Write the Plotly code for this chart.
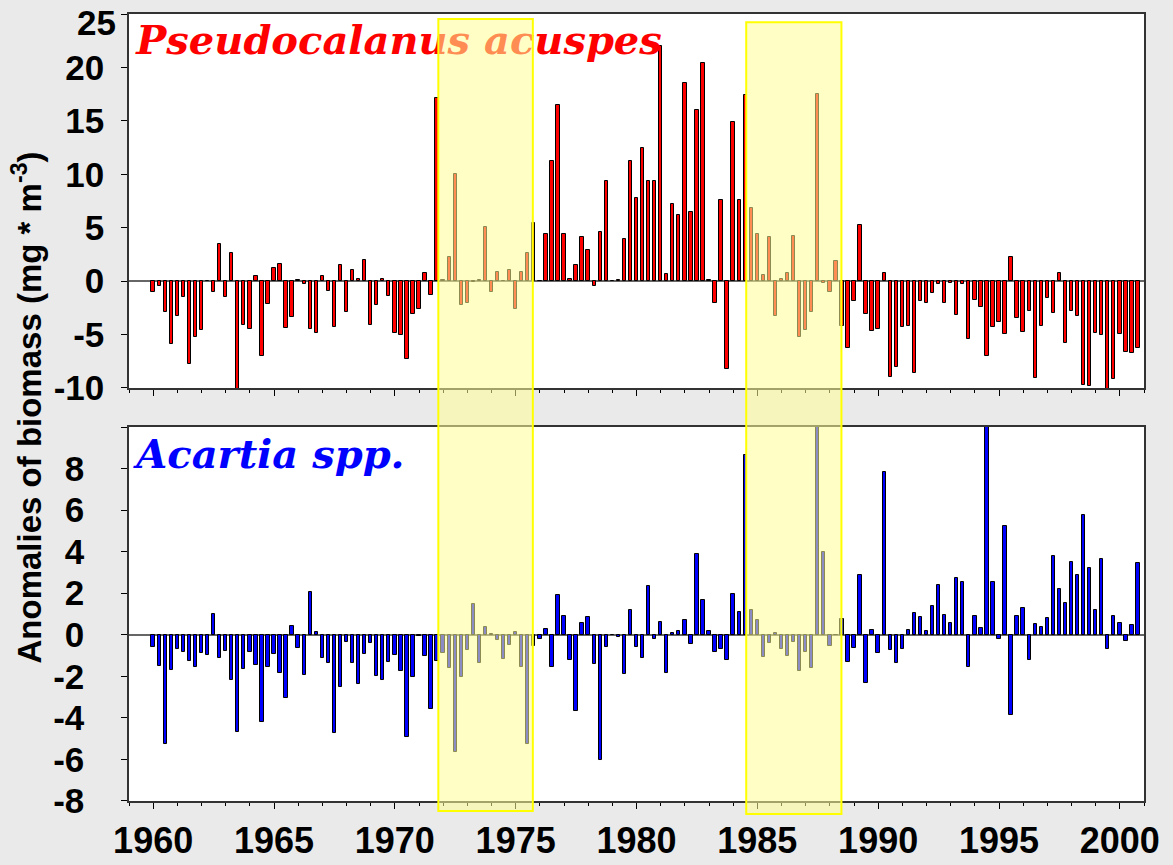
import plotly.graph_objects as go

# quarterly time index 1960.00 ... 2000.75
years = [1960 + q / 4 for q in range(164)]

pseudocalanus = [
    -1.0, -0.5, -2.9, -5.9, -3.25, -1.5, -7.8, -5.2, -4.6, 0.05,
    -1.0, 3.5, -1.5, 2.6, -10.4, -4.1, -4.5, 0.5, -7.0, -2.1,
    1.25, 1.6, -4.4, -3.4, 0.1, -0.25, -4.5, -4.9, 0.45, -0.9,
    -4.3, 1.55, -2.9, 1.05, 0.2, 2.0, -4.1, -2.25, 0.2, -1.35,
    -4.9, -5.0, -7.3, -3.1, -2.6, 0.8, -1.3, 17.1, 0.15, 2.3,
    10.0, -2.2, -2.0, -0.1, 0.1, 5.1, -1.0, 0.9, 0.05, 1.0,
    -2.6, 0.9, 2.6, 5.4, 0.05, 4.4, 11.2, 16.5, 4.45, 0.2,
    1.5, 4.1, 2.9, -0.45, 4.6, 9.4, 0.05, 0.1, 3.9, 11.2,
    7.75, 12.5, 9.35,
    9.4, 22.0, 0.7, 7.25, 6.2, 18.5, 6.5, 16.0, 20.4, 0.1,
    -2.0, 7.6, -8.2, 14.9, 7.55, 17.4, 6.85, 4.4, 0.6, 4.15,
    -3.25, 0.2, 0.8, 4.2, -5.25, -4.55, -2.9, 17.55, -0.2, -1.0,
    1.85, -4.2, -6.25, -1.85, 5.3, -3.05, -4.7, -4.45, 0.75, -9.0,
    -8.0, -4.3, -4.2,
    -8.6, -1.85, -2.0, -1.1, -0.25, -2.0, -0.15, -3.15, -0.25, -5.4,
    -1.75, -2.4, -7.0, -4.3, -3.8, -4.95, 2.3, -3.45, -4.75, -2.8,
    -9.05, -4.2, -1.55, -2.95, 0.8, -5.8, -2.8, -3.25, -9.7, -9.8,
    -4.85, -5.0, -10.3, -9.15, -4.95, -6.6, -6.7, -6.25,
]

acartia = [
    -0.61, -1.51, -5.27, -1.70, -0.69, -0.84, -1.27, -1.56, -0.88, -0.98,
    1.01, -1.12, -0.79, -2.17, -4.69, -1.65, -0.84, -1.46, -4.21, -1.56,
    -0.93, -1.85, -3.05, 0.42, -0.64, -1.96, 2.06, 0.13, -1.12, -1.37,
    -4.74, -2.52, -0.35, -1.37, -2.38, -0.93, -0.40, -1.99, -2.18, -1.32,
    -0.96, -1.75, -4.93, -2.04, -0.05, -1.03, -3.56, -1.27, -0.88, -1.61,
    -5.62, -2.04, -0.71, 1.49, -1.38, 0.37, 0.03, -0.24, -1.19, -0.51,
    0.14, -1.53, -5.27, -0.55, -0.18, 0.27, -1.56, 1.93, 0.92, -1.22,
    -3.65, 0.56, 0.85, -1.41, -6.04, -0.61, -0.02, -0.11, -1.90, 1.19,
    -0.61, -1.12, 2.35,
    -0.21, 0.61, -1.85, 0.08, 0.19, 0.71, -0.45, 3.89, 1.67, 0.18,
    -0.84, -0.69, -1.22, 1.96, 1.11, 8.63, 1.19, 0.72, -1.06, -0.40,
    0.08, -0.69, -1.04, -0.37, -1.75, -0.82, -1.61, 10.3, 4.0, -0.56,
    -0.02, 0.77, -1.33, -0.66, 2.88, -2.33, 0.22, -0.88, 7.84, -0.72,
    -1.37, -0.69, 0.21,
    1.03, 0.87, 0.16, 1.38, 2.38, 0.96, 0.59, 2.75, 2.55, -1.56,
    0.92, 0.34, 10.2, 2.55, -0.21, 5.25, -3.87, 0.92, 1.30, -1.22,
    0.53, 0.39, 0.82, 3.81, 2.22, 1.51, 3.52, 2.89, 5.78, 3.23,
    1.17, 3.66, -0.69, 0.92, 0.59, -0.31, 0.48, 3.44,
]

highlight_periods = [(1971.8, 1975.71), (1984.54, 1988.48)]
top_ticks = [-10, -5, 0, 5, 10, 15, 20, 25]
top_ticktext = ["-10", "-5", "0", "5", "10", "15", "20", ""]
top_label_25 = "25"
bottom_ticks = [-8, -6, -4, -2, 0, 2, 4, 6, 8, 10]
bottom_ticktext = ["-8", "-6", "-4", "-2", "0", "2", "4", "6", "8", ""]
year_ticks = [1960, 1965, 1970, 1975, 1980, 1985, 1990, 1995, 2000]

fig = go.Figure()

fig.add_trace(go.Bar(x=years, y=pseudocalanus, width=0.14,
                     marker=dict(color="#FF0000", line=dict(color="black", width=1)),
                     xaxis="x2", yaxis="y2", showlegend=False))
fig.add_trace(go.Bar(x=years, y=acartia, width=0.14,
                     marker=dict(color="#0000FF", line=dict(color="black", width=1)),
                     xaxis="x", yaxis="y", showlegend=False))

title_font = dict(family="DejaVu Serif", size=40, weight="bold", style="italic")
fig.add_trace(go.Scatter(x=[1959.3], y=[22.2], mode="text", text=["Pseudocalanus acuspes"],
                         textposition="middle right", cliponaxis=False,
                         textfont=dict(color="#FF0000", **title_font),
                         xaxis="x2", yaxis="y2", showlegend=False, hoverinfo="skip"))
fig.add_trace(go.Scatter(x=[1959.3], y=[8.5], mode="text", text=["Acartia spp."],
                         textposition="middle right", cliponaxis=False,
                         textfont=dict(color="#0000FF", **title_font),
                         xaxis="x", yaxis="y", showlegend=False, hoverinfo="skip"))

y0s = [-0.0127, -0.0165]
y1s = [0.9936, 0.9895]
for (a, b), y0, y1 in zip(highlight_periods, y0s, y1s):
    fig.add_shape(type="rect", xref="x", yref="paper", x0=a, x1=b, y0=y0, y1=y1,
                  fillcolor="rgba(255,255,150,0.55)", line=dict(color="#FFFF00", width=2),
                  layer="above")

sans = "Liberation Sans, Arial, sans-serif"
tick_font = dict(family=sans, size=35, color="black", weight="bold")
xcommon = dict(range=[1959, 2001], tickvals=year_ticks, ticks="outside", ticklen=6,
               tickcolor="black", showline=True, linecolor="#333", linewidth=1.5, mirror=True,
               showgrid=False, zeroline=False, ticklabeloverflow="allow",
               minor=dict(dtick=1, ticklen=3, tickcolor="black", ticks="outside", showgrid=False))
ycommon = dict(ticks="outside", ticklen=6, tickcolor="black", showline=True, linecolor="#333",
               linewidth=1.5, mirror=True, showgrid=False, zeroline=True, zerolinecolor="#666",
               zerolinewidth=2, ticklabeloverflow="allow", tickfont=tick_font)

fig.update_layout(
    width=1173, height=865,
    margin=dict(l=129, r=29, t=14, b=64, autoexpand=False),
    paper_bgcolor="#EAEAEA", plot_bgcolor="white",
    bargap=0,
    xaxis=dict(domain=[0, 1], anchor="y", ticklabelstandoff=1,
               tickfont=dict(family=sans, size=36, color="black", weight="bold"),
               **xcommon),
    xaxis2=dict(domain=[0, 1], anchor="y2", matches="x", showticklabels=False,
                **xcommon),
    yaxis=dict(domain=[0, 0.4752], anchor="x", range=[-8, 10], tickvals=bottom_ticks,
               ticktext=bottom_ticktext, ticklabelstandoff=30, **ycommon),
    yaxis2=dict(domain=[0.5248, 1], anchor="x2", range=[-10, 25], tickvals=top_ticks,
                ticktext=top_ticktext, ticklabelstandoff=10, **ycommon),
    annotations=[
        dict(text="Anomalies of biomass (mg * m<sup>-3</sup>)", textangle=-90,
             xref="paper", yref="paper", x=-0.1005, y=0.5, xanchor="center",
             yanchor="middle", showarrow=False,
             font=dict(family=sans, size=33, color="black", weight="bold")),
        dict(text=top_label_25, xref="paper", yref="paper", x=-0.0118, y=1.0152,
             xanchor="right", yanchor="top", showarrow=False, borderpad=0,
             font=tick_font),
    ],
)

fig.write_html("out.html", config={"displayModeBar": False},
               post_script="document.body.style.margin='0';")
